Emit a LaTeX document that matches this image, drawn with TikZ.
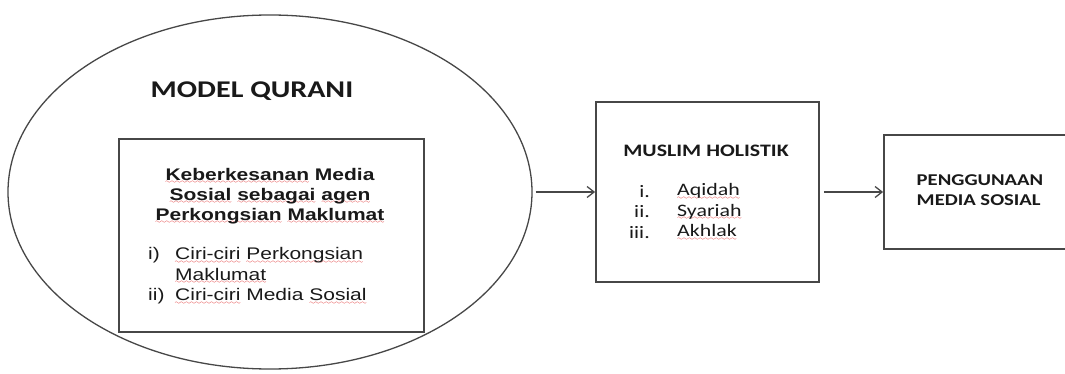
\documentclass[tikz,border=0pt]{standalone}
\usepackage{fontspec}
\newfontfamily\calfont[FakeStretch=1.25]{Carlito}
\newfontfamily\arifont[FakeStretch=1.25]{Liberation Sans}
\usetikzlibrary{shapes.geometric,arrows.meta,positioning}
\colorlet{colorLine}{black!72}
\colorlet{colorText}{black!90}
\colorlet{colorWave}{red!85!black}
\font\wavefont=lasy6
\newcommand\wavy[1]{\setbox0\hbox{#1}%
   \rlap{\lower3.5pt\hbox to\wd0{\textcolor{colorWave}{\xleaders\hbox{\wavefont\char58}\hfill}}}\box0\relax}
\tikzset{
   every path/.style={>={Straight Barb[length=7pt,width=11pt]}},
   outer/.style={ellipse,draw=colorLine,line width=1.3pt,inner sep=0pt,
      minimum width=524pt,minimum height=354pt},
   boxr/.style={rectangle,draw=colorLine,line width=1.8pt,inner sep=0pt},
   flow/.style={->,color=colorLine,line width=1.3pt},
   calb/.style={font=\calfont\bfseries\fontsize{17.5}{20.5}\selectfont,text=colorText,inner sep=0pt},
   calr/.style={font=\calfont\fontsize{17.5}{20.5}\selectfont,text=colorText,inner sep=0pt},
   arib/.style={font=\arifont\bfseries\fontsize{16.8}{20}\selectfont,text=colorText,inner sep=0pt},
   arir/.style={font=\arifont\fontsize{16.8}{20.5}\selectfont,text=colorText,inner sep=0pt},
}

\begin{document}
\begin{tikzpicture}[x=1pt,y=-1pt]
      \useasboundingbox (0,0) rectangle (1065,374);

      \node (qurani) [outer] at (270,192) {};

      \node (quranilabel) [calb,font=\calfont\bfseries\fontsize{24}{28}\selectfont]
        at (252,91) {MODEL QURANI};

      \node (keber) [boxr,minimum width=305pt,minimum height=193pt]
        % at (271,235)
        at (271.5,235.5) {};

      \node (kebertitle) [arib,align=center] at (270,196)
        {\wavy{Keberkesanan} Media\\ \wavy{Sosial} \wavy{sebagai} \wavy{agen}\\
         \wavy{Perkongsian} \wavy{Maklumat}};

      \node (kebernum) [arir,align=left,anchor=west] at (148,276)
        {i)\\ \strut\\ ii)};

      \node (keberitem) [arir,align=left,anchor=west] at (175,276)
        {\wavy{Ciri-ciri} \wavy{Perkongsian}\\ \wavy{Maklumat}\\
         \wavy{Ciri-ciri} Media \wavy{Sosial}};

      \node (muslim) [boxr,minimum width=223pt,minimum height=180pt]
        at (707.5,192) {};

      \node (muslimlabel) [calb] at (706,151) {MUSLIM HOLISTIK};

      \node (muslimnum) [calr,align=right,anchor=east] at (650,212)
        {i.\\ ii.\\ iii.};

      \node (muslimitem) [calr,align=left,anchor=west] at (677,212)
        {\wavy{Aqidah}\\ \wavy{Syariah}\\ \wavy{Akhlak}};

      % right edge lies outside the page
      \node (pengguna) [boxr,minimum width=206pt,minimum height=114pt]
        at (987,192) {};

      \node (penggunalabel) [calb,font=\calfont\bfseries\fontsize{16.5}{20}\selectfont,align=left]
        at (980,190) {PENGGUNAAN\\ MEDIA SOSIAL};

      \draw[flow] ([xshift=3pt]qurani.east) -- (muslim.west);
      \draw[flow] ([xshift=4pt]muslim.east) -- (pengguna.west);
\end{tikzpicture}
\end{document}
